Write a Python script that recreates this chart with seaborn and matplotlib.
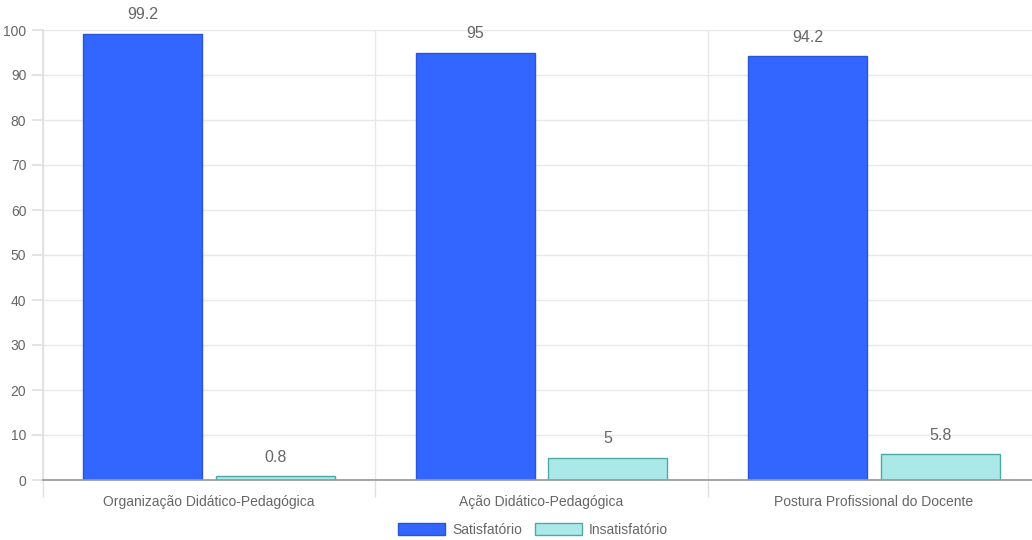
"""Satisfação por dimensão: barras agrupadas Satisfatório / Insatisfatório."""

import matplotlib.pyplot as plt
import pandas as pd
import seaborn as sns
from matplotlib.patches import Patch
from matplotlib.ticker import FixedLocator, MultipleLocator

CATEGORIES = ["Organização Didático-Pedagógica", "Ação Didático-Pedagógica", "Postura Profissional do Docente"]
SERIES = ["Satisfatório", "Insatisfatório"]
SATISFATORIO = [99.2, 95, 94.2]
INSATISFATORIO = [0.8, 5, 5.8]

FILL = {"Satisfatório": "#3366FF", "Insatisfatório": "#ABE9E8"}
EDGE = {"Satisfatório": "#2A55D6", "Insatisfatório": "#4FA8A8"}
TEXT = "#666666"


def main() -> None:
    sns.set_theme(style="white")
    plt.rcParams["font.family"] = ["Liberation Sans", "DejaVu Sans"]

    df = pd.DataFrame({
        "categoria": CATEGORIES * 2,
        "serie": [SERIES[0]] * 3 + [SERIES[1]] * 3,
        "valor": SATISFATORIO + INSATISFATORIO,
    })

    fig = plt.figure(figsize=(10.32, 5.40), dpi=100)
    ax = fig.add_axes([43 / 1032, 60 / 540, 997 / 1032, 450 / 540])
    sns.barplot(data=df, x="categoria", y="valor", hue="serie", hue_order=SERIES,
                palette=FILL, saturation=1, width=0.8, gap=0.105, ax=ax, legend=False, zorder=3)

    for container, name in zip(ax.containers, SERIES):
        for bar in container:
            bar.set_edgecolor(EDGE[name])
            bar.set_linewidth(1.0)
        ax.bar_label(container, fmt="%g", padding=8, color=TEXT, fontsize=11.5)

    ax.set_xlim(-0.5, 2.5)
    ax.set_ylim(0, 100)
    ax.yaxis.set_major_locator(MultipleLocator(10))
    ax.xaxis.set_minor_locator(FixedLocator([-0.5, 0.5, 1.5]))
    ax.grid(axis="y", color="#E8E8E8", linewidth=1.0, zorder=0)
    ax.grid(axis="x", which="minor", color="#E8E8E8", linewidth=1.0, zorder=0)
    ax.tick_params(axis="y", length=8, color="#E0E0E0", labelcolor=TEXT, labelsize=10, pad=4, left=True)
    ax.tick_params(axis="x", which="major", length=0, labelcolor=TEXT, labelsize=10, pad=11)
    ax.tick_params(axis="x", which="minor", length=12, color="#E0E0E0", bottom=True)

    for side in ("top", "right"):
        ax.spines[side].set_visible(False)
    ax.spines["left"].set_color("#E0E0E0")
    ax.spines["bottom"].set_color("#999999")
    ax.spines["bottom"].set_zorder(4)
    ax.set_xlabel("")
    ax.set_ylabel("")

    handles = [Patch(facecolor=FILL[s], edgecolor=EDGE[s], label=s) for s in SERIES]
    fig.legend(handles=handles, loc="center", bbox_to_anchor=(533 / 1032, 1 - 530 / 540),
               ncol=2, frameon=False, handlelength=3.4, handleheight=1.0,
               handletextpad=0.5, columnspacing=0.95, fontsize=10, labelcolor=TEXT,
               borderpad=0, borderaxespad=0)

    fig.savefig("out.png", dpi=100)
    plt.close(fig)


if __name__ == "__main__":
    main()
